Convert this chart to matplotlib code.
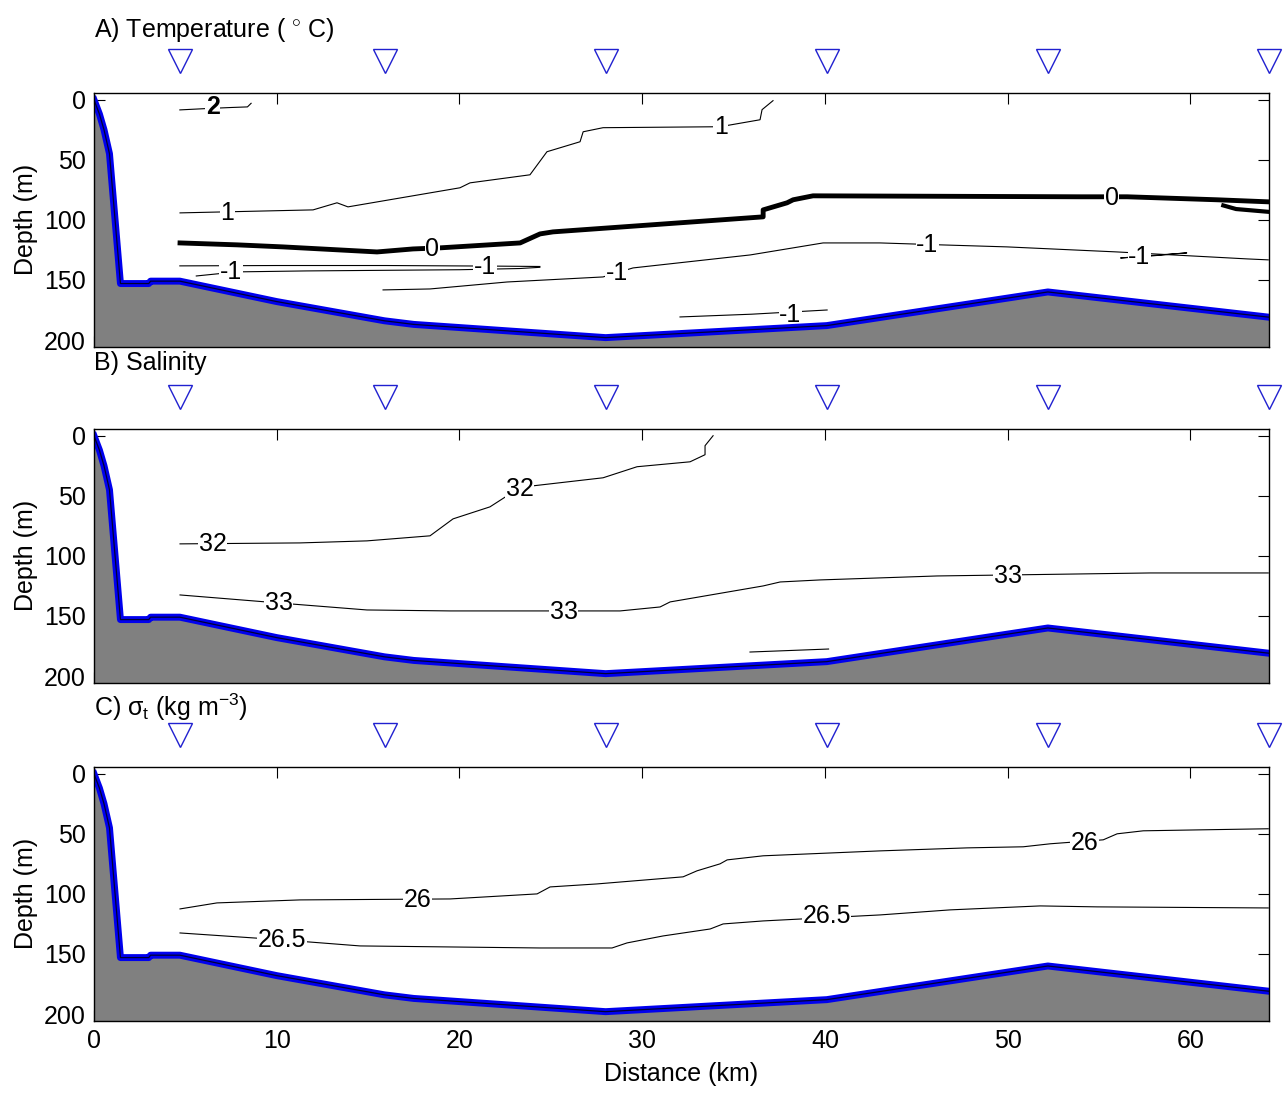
import matplotlib
matplotlib.use("Agg")
import matplotlib.pyplot as plt
import numpy as np

plt.rcParams['font.family'] = ['Liberation Sans', 'DejaVu Sans']
plt.rcParams['mathtext.fontset'] = 'custom'
plt.rcParams['mathtext.rm'] = 'Liberation Sans'
plt.rcParams['mathtext.it'] = 'Liberation Sans:italic'

# station positions (km)
stations = [4.7, 15.9, 28.0, 40.1, 52.2, 64.3]

# bottom profile (km, depth m)
bathy_x = [0, 0.3, 0.55, 0.85, 1.45, 3.0, 3.1, 4.7, 10.0, 15.9, 17.5, 28.0, 40.1, 52.2, 64.3]
bathy_d = [0, 12, 25, 45, 153, 153, 151, 151, 168, 184, 187, 198, 188, 160, 181]

# temperature contours
t2_x = [4.7, 6.0, 7.5, 8.4, 8.6]
t2_d = [8.5, 7.5, 6.5, 6.0, 3.0]

t1_x = [4.71, 11.99, 13.30, 13.90, 20.03, 20.58, 23.86, 24.79, 26.60, 26.77, 27.86, 34.26, 36.45, 36.56, 37.16]
t1_d = [94.2, 91.7, 85.8, 89.2, 73.3, 69.2, 62.5, 43.3, 35.0, 26.7, 23.3, 22.5, 16.7, 8.3, 0.8]

t0_x = [4.71, 7.83, 10.34, 15.49, 17.46, 18.94, 23.32, 24.41, 25.12, 36.62, 36.62, 37.93, 38.26, 39.35, 53.97, 56.54, 61.47, 64.26]
t0_d = [119.2, 120.8, 122.5, 126.7, 124.2, 123.3, 119.2, 111.7, 110.0, 97.5, 91.7, 85.8, 83.3, 80.0, 80.8, 80.8, 83.3, 85.0]
t0b_x = [61.8, 62.5, 64.26]
t0b_d = [88.0, 91.0, 93.3]

tm1a_x = [4.7, 10.0, 16.0, 22.0, 24.4]
tm1a_d = [138.3, 138.0, 138.0, 138.5, 138.8]
tm1b_x = [5.6, 7.8, 11.6, 20.0, 23.3, 24.4]
tm1b_d = [146.7, 143.3, 142.5, 141.5, 140.5, 139.5]
tm1c_x = [15.82, 18.39, 22.61, 27.86, 29.50, 35.91, 39.90, 43.02, 46.30, 49.97, 55.99, 63.11, 64.26]
tm1c_d = [158.3, 157.5, 151.7, 147.5, 140.0, 129.2, 119.2, 119.2, 120.8, 122.5, 126.7, 132.5, 133.3]
tm1d_x = [56.2, 57.5, 59.8, 58.0, 56.2]
tm1d_d = [131.7, 130.5, 127.5, 129.5, 131.7]
tm1e_x = [32.07, 36.0, 40.12]
tm1e_d = [180.8, 178.5, 175.0]

# salinity contours
s32_x = [4.71, 11.28, 14.94, 18.39, 19.65, 21.67, 22.61, 24.03, 27.86, 29.72, 32.62, 33.44, 33.44, 33.88]
s32_d = [90.0, 89.2, 87.5, 83.3, 69.2, 59.2, 50.0, 41.7, 35.0, 25.8, 21.7, 15.8, 8.3, 0.0]
s33_x = [4.71, 10.13, 14.94, 19.49, 28.79, 30.98, 31.53, 36.62, 37.55, 39.74, 46.14, 57.80, 64.26]
s33_d = [132.5, 139.2, 145.0, 145.8, 145.8, 142.5, 138.3, 125.0, 121.7, 120.0, 116.7, 114.2, 114.2]
s33b_x = [35.9, 40.2]
s33b_d = [180.0, 177.5]

# sigma-t contours
g26_x = [4.71, 6.73, 11.28, 19.49, 24.25, 24.96, 27.53, 32.24, 33.00, 34.26, 34.65, 36.62, 43.02, 47.78, 50.85, 52.33, 55.23, 55.99, 57.42, 60.54, 64.26]
g26_d = [112.5, 107.5, 105.0, 104.2, 100.0, 94.2, 91.7, 85.8, 80.8, 75.0, 71.7, 68.3, 64.2, 61.7, 60.8, 58.3, 55.0, 50.0, 47.5, 46.7, 45.8]
g265_x = [4.71, 10.34, 14.56, 24.41, 28.35, 29.17, 31.14, 33.72, 34.43, 36.62, 43.02, 46.85, 51.78, 54.90, 64.26]
g265_d = [132.5, 138.3, 143.3, 145.0, 145.0, 140.8, 135.0, 129.2, 125.0, 122.5, 117.5, 113.3, 110.0, 110.8, 111.7]

# contour labels (text, km, depth, bold)
temp_labels = [("2", 6.5, 6.0, True), ("1", 7.3, 94.0, False), ("1", 34.3, 22.5, False),
               ("0", 18.5, 124.2, False), ("0", 55.7, 81.5, False),
               ("-1", 7.5, 143.0, False), ("-1", 21.4, 139.5, False), ("-1", 28.6, 144.0, False),
               ("-1", 45.6, 121.0, False), ("-1", 57.2, 130.8, False), ("-1", 38.1, 179.0, False)]
sal_labels = [("32", 6.5, 90.0), ("32", 23.3, 44.0), ("33", 10.1, 139.0), ("33", 25.7, 147.0), ("33", 50.0, 117.0)]
sig_labels = [("26", 17.7, 105.0), ("26", 54.2, 57.5), ("26.5", 10.3, 138.0), ("26.5", 40.1, 118.0)]

fs = 18
fig = plt.figure(figsize=(12.87, 10.96), dpi=100)
left, width, height = 0.073, 0.913, 0.232
bottoms = [0.6834, 0.3768, 0.0684]
axes = [fig.add_axes([left, b, width, height]) for b in bottoms]


def base(ax, title, ty):
    ax.fill_between(bathy_x, bathy_d, 210, color='#808080', zorder=3)
    ax.plot(bathy_x, bathy_d, color='#0000ee', lw=5.0, zorder=4, solid_joinstyle='round')
    ax.plot(bathy_x, bathy_d, color='#000033', lw=0.9, zorder=5)
    ax.plot(stations, [-32] * len(stations), 'v', mfc='none', mec='#2020d0',
            ms=17, mew=1.0, clip_on=False, zorder=6)
    ax.set_xlim(0, 64.3)
    ax.set_ylim(205.8, -5.8)
    ax.set_yticks([0, 50, 100, 150, 200])
    ax.set_xticks(np.arange(0, 61, 10))
    ax.tick_params(direction='in', length=8, top=True, right=True, labelsize=fs, pad=6)
    ax.set_ylabel("Depth (m)", fontsize=fs, labelpad=4)
    ax.text(0.0, 1 + ty, title, transform=ax.transAxes, fontsize=fs, ha='left', va='baseline')
    for s in ax.spines.values():
        s.set_linewidth(1.0)
        s.set_zorder(7)


def label(ax, txt, x, d, bold=False):
    ax.text(x, d, txt, fontsize=fs, ha='center', va='center', zorder=2.5,
            fontweight='bold' if bold else 'normal',
            bbox=dict(facecolor='white', edgecolor='none', pad=0.3))


ax = axes[0]
base(ax, "A) Temperature ( $^{\\circ}$ C)", 0.22)
thin = dict(color='black', lw=0.8, zorder=2)
ax.plot(t2_x, t2_d, **thin)
ax.plot(t1_x, t1_d, **thin)
ax.plot(t0_x, t0_d, color='black', lw=3.5, zorder=2)
ax.plot(t0b_x, t0b_d, color='black', lw=3.0, zorder=2)
for xs, ds in [(tm1a_x, tm1a_d), (tm1b_x, tm1b_d), (tm1c_x, tm1c_d), (tm1d_x, tm1d_d), (tm1e_x, tm1e_d)]:
    ax.plot(xs, ds, **thin)
for txt, x, d, b in temp_labels:
    label(ax, txt, x, d, b)
ax.tick_params(labelbottom=False)

ax = axes[1]
base(ax, "B) Salinity", 0.23)
ax.plot(s32_x, s32_d, **thin)
ax.plot(s33_x, s33_d, **thin)
ax.plot(s33b_x, s33b_d, **thin)
for txt, x, d in sal_labels:
    label(ax, txt, x, d)
ax.tick_params(labelbottom=False)

ax = axes[2]
base(ax, "C) σ$_{\\mathrm{t}}$ (kg m$^{-3}$)", 0.20)
ax.plot(g26_x, g26_d, **thin)
ax.plot(g265_x, g265_d, **thin)
for txt, x, d in sig_labels:
    label(ax, txt, x, d)
ax.set_xlabel("Distance (km)", fontsize=fs, labelpad=6)

fig.savefig("out.png", dpi=100)
